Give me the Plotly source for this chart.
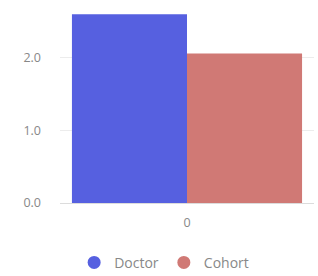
import plotly.graph_objects as go

categories = ["0"]
series_names = ["Doctor", "Cohort"]
doctor_values = [2.6]
cohort_values = [2.06]
colors = ["#5660E0", "#D07975"]
y_tick_vals = [0, 1, 2]
y_tick_text = ["0.0", "1.0", "2.0"]

fig = go.Figure()
for name, vals, col in zip(series_names, [doctor_values, cohort_values], colors):
    fig.add_trace(go.Bar(x=categories, y=vals, name=name, marker=dict(color=col, line=dict(width=0)),
                         showlegend=False))
for name, col in zip(series_names, colors):
    fig.add_trace(go.Scatter(x=[None], y=[None], mode="markers", name=name,
                             marker=dict(color=col, size=13, symbol="circle")))

fig.update_layout(
    width=318, height=276,
    margin=dict(l=60, r=4, t=10, b=73, autoexpand=False),
    paper_bgcolor="white", plot_bgcolor="white",
    barmode="group", bargap=0.094, bargroupgap=0,
    font=dict(family="Open Sans", color="#888888", size=12.5),
    showlegend=True,
    legend=dict(orientation="h", x=0.41, xanchor="center", y=-0.31, yanchor="middle",
                font=dict(size=14, color="#888888"), itemwidth=30, tracegroupgap=0),
    xaxis=dict(type="category", showgrid=False, zeroline=False, showline=False,
               ticklabelstandoff=10, automargin=False),
    yaxis=dict(range=[0, 2.66], tickvals=y_tick_vals, ticktext=y_tick_text,
               showgrid=True, gridcolor="#ececec", gridwidth=1, zeroline=True,
               zerolinecolor="#dcdcdc", zerolinewidth=1, ticklabelstandoff=18,
               automargin=False),
)
fig.write_html("out.html", config={"displayModeBar": False},
               post_script="document.body.style.margin='0px';")
